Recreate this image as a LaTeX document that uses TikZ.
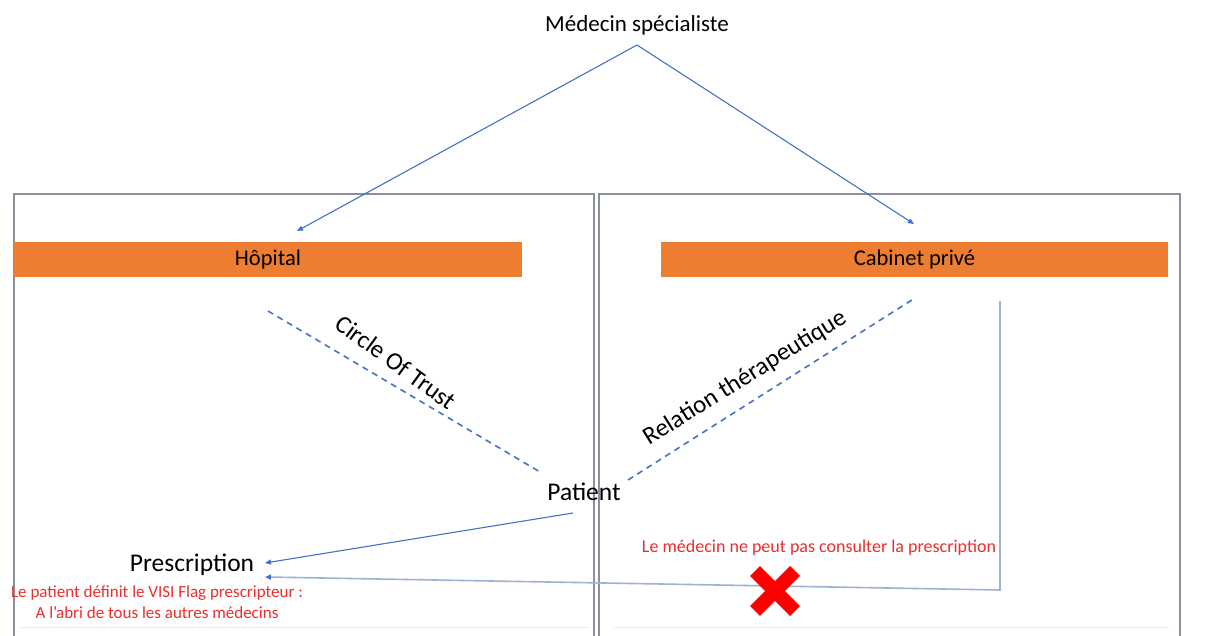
\documentclass[tikz,border=0pt]{standalone}
\usepackage{fontspec}
\setmainfont{Carlito}
\usetikzlibrary{arrows.meta}
\definecolor{orangebar}{HTML}{ED7D31}
\definecolor{linkblue}{HTML}{4472C4}
\definecolor{paleblue}{HTML}{9FB2CF}
\definecolor{boxgray}{HTML}{8A909C}
\definecolor{notered}{HTML}{E8302E}
\definecolor{faintgray}{HTML}{ECECEC}
\tikzset{
  bar/.style={fill=orangebar, draw=none, minimum height=35pt, inner sep=0pt, font=\fontsize{22.5}{26}\selectfont},
  lbl/.style={inner sep=1pt},
  link/.style={draw=linkblue, line width=1.1pt, -{Triangle[length=6pt,width=5pt]}},
  palelink/.style={draw=paleblue, line width=1.6pt, -{Triangle[length=6pt,width=5pt,color=linkblue,fill=linkblue]}},
  trust/.style={draw=linkblue, line width=1.6pt, dash pattern=on 6pt off 5pt},
  frame/.style={draw=boxgray, line width=1.5pt},
  note/.style={text=notered, align=center, inner sep=0pt},
  cross/.style={draw=red, line width=14pt}
}
\begin{document}
\begin{tikzpicture}[x=1pt,y=-1pt]
\useasboundingbox (0,0) rectangle (1208,636);
\fill[white] (0,0) rectangle (1208,636);
% frames
\draw[frame] (14,636) -- (14,194) -- (594,194) -- (594,636);
\draw[frame] (599,636) -- (599,194) -- (1180,194) -- (1180,636);
\draw[faintgray, line width=1pt] (20,627) -- (590,627);
\draw[faintgray, line width=1pt] (614,627) -- (1169,627);
% top
\node[lbl, font=\fontsize{23}{27}\selectfont] (med) at (637,25) {Médecin spécialiste};
\coordinate (medfoot) at (637,45);
\coordinate (hoptip) at (297,231);
\coordinate (cabtip) at (914,224);
\draw[link] (medfoot) -- (hoptip);
\draw[link] (medfoot) -- (cabtip);
% bars
\node[bar, minimum width=508pt] (hop) at (268,259.5) {Hôpital};
\node[bar, minimum width=507pt] (cab) at (914.5,259.5) {Cabinet privé};
% dashed relations
\coordinate (ctA) at (268,311);
\coordinate (ctB) at (540,472);
\draw[trust] (ctA) -- (ctB);
\node[lbl, rotate=-36, font=\fontsize{25}{29}\selectfont] (ctlabel) at (396,362) {Circle Of Trust};
\coordinate (rtA) at (628,480);
\coordinate (rtB) at (915,298);
\draw[trust] (rtA) -- (rtB);
\node[lbl, rotate=32, font=\fontsize{25}{29}\selectfont] (rtlabel) at (745,378) {Relation thérapeutique};
% patient and prescription
\node[lbl, font=\fontsize{25.5}{29}\selectfont] (patient) at (584,492) {Patient};
\node[lbl, font=\fontsize{25.5}{29}\selectfont] (presc) at (192,565) {Prescription};
\coordinate (patfoot) at (573,513);
\coordinate (prescin1) at (265,563);
\coordinate (prescin2) at (265,577);
\draw[link] (patfoot) -- (prescin1);
\coordinate (cabA) at (1000,301);
\coordinate (cabB) at (1000,590);
\draw[palelink] (cabA) -- (cabB) -- (prescin2);
% notes
\node[note, font=\fontsize{18}{21}\selectfont] (notecab) at (819,548) {Le médecin ne peut pas consulter la prescription};
\node[note, font=\fontsize{17}{21}\selectfont] (notehop) at (157,602) {Le patient définit le VISI Flag prescripteur :\\A l'abri de tous les autres médecins};
% red cross
\draw[cross] (755,571) -- (795,611);
\draw[cross] (795,571) -- (755,611);
\end{tikzpicture}
\end{document}
